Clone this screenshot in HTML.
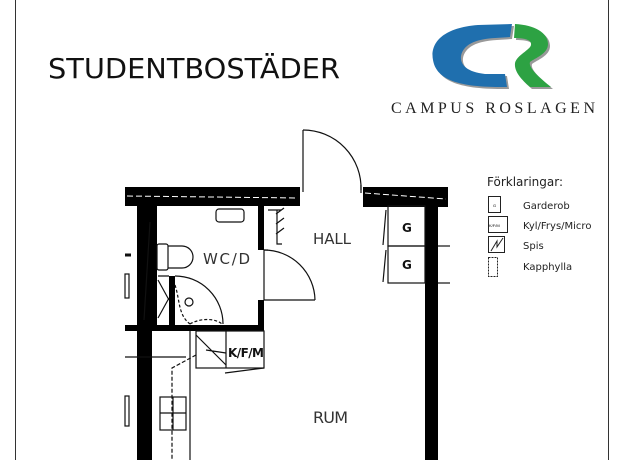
<!DOCTYPE html>
<html><head><meta charset="utf-8"><style>
html,body{margin:0;padding:0;background:#fff;}
svg{display:block}
</style></head><body>
<svg width="625" height="460" viewBox="0 0 625 460" xmlns="http://www.w3.org/2000/svg">
<rect width="625" height="460" fill="#fff"/>
<line x1="15.5" y1="0" x2="15.5" y2="460" stroke="#333" stroke-width="1"/>
<line x1="608.5" y1="0" x2="608.5" y2="460" stroke="#333" stroke-width="1"/>
<text x="48" y="78" font-family="'DejaVu Sans','Liberation Sans',sans-serif" font-size="28" textLength="292" lengthAdjust="spacingAndGlyphs" fill="#111">STUDENTBOSTÄDER</text>
<!-- logo -->
<path d="M512,24 L478,25 C440,28 430,45 433,60 C436,78 455,87 500,87 L507,87 L505,74 L485,74 C466,72 460,64 461,56 C463,45 475,39 495,38 L510,37 Z" fill="#999" transform="translate(2,2)"/>
<path d="M512,24 L478,25 C440,28 430,45 433,60 C436,78 455,87 500,87 L507,87 L505,74 L485,74 C466,72 460,64 461,56 C463,45 475,39 495,38 L510,37 Z" fill="#1f6fae"/>
<path d="M515,24 C535,25 548,33 548,44 C548,54 535,58 530,62 C528,68 540,78 551,87 L530,87 C522,80 514,72 515,63 C517,55 530,50 531,45 C532,40 525,38 514,38 Z" fill="#999" transform="translate(2,2)"/>
<path d="M515,24 C535,25 548,33 548,44 C548,54 535,58 530,62 C528,68 540,78 551,87 L530,87 C522,80 514,72 515,63 C517,55 530,50 531,45 C532,40 525,38 514,38 Z" fill="#2da243"/>
<text x="391" y="113" font-family="'Liberation Serif',serif" font-size="16" textLength="204" lengthAdjust="spacing" fill="#222">CAMPUS ROSLAGEN</text>
<!-- legend -->
<g font-family="'DejaVu Sans','Liberation Sans',sans-serif" fill="#222">
<text x="487" y="186" font-size="12">Förklaringar:</text>
<text x="523" y="209" font-size="10">Garderob</text>
<text x="523" y="229" font-size="10">Kyl/Frys/Micro</text>
<text x="523" y="249" font-size="10">Spis</text>
<text x="523" y="270" font-size="10">Kapphylla</text>
</g>
<g fill="none" stroke="#222" stroke-width="1">
<rect x="488.5" y="196.5" width="12" height="16"/>
<rect x="488.5" y="216.5" width="19" height="16"/>
<rect x="488.5" y="236.5" width="16" height="16"/>
<path d="M491,251 L497,241 L497,247 L503,238"/>
<rect x="488.5" y="257.5" width="9" height="19" stroke-dasharray="2,1"/>
</g>
<text x="493" y="207" font-size="4" font-family="sans-serif">G</text>
<text x="489" y="227" font-size="4" font-family="sans-serif">K/F/M</text>
<!-- floor plan -->
<g fill="#000">
<rect x="125" y="187" width="175" height="19"/>
<rect x="363" y="187" width="85" height="20"/>
<rect x="137" y="206" width="15" height="254"/>
<rect x="152" y="206" width="5" height="119"/>
<rect x="258" y="206" width="6" height="44"/>
<rect x="258" y="300" width="6" height="25"/>
<rect x="125" y="325" width="139" height="6"/>
<rect x="425" y="206" width="13" height="254"/>
<rect x="169" y="276" width="6" height="49"/>
</g>
<g stroke="#fff" stroke-width="1" stroke-dasharray="6,3" fill="none">
<line x1="127" y1="196" x2="298" y2="198"/>
<line x1="365" y1="193" x2="446" y2="199"/>
</g>
<g fill="none" stroke="#111" stroke-width="1.2">
<line x1="303" y1="130" x2="303" y2="192"/>
<path d="M303,130 A58,58 0 0 1 361,190"/>
<line x1="361" y1="185" x2="361" y2="193"/>
<line x1="264" y1="250" x2="264" y2="300"/>
<line x1="264" y1="250" x2="268" y2="250"/>
<path d="M264,250 A51,51 0 0 1 315,300"/>
<line x1="264" y1="300" x2="315" y2="300"/>
<path d="M175,276 A48,48 0 0 1 223,324"/>
<path d="M175,285 C180,300 178,315 190,324" stroke-dasharray="3,2"/>
<path d="M190,324 C200,318 215,318 222,324" stroke-dasharray="3,2"/>
<circle cx="189" cy="302" r="4"/>
<path d="M158,276 L169,276 M158,280 L169,300 M158,318 L169,298"/>
<rect x="216" y="209" width="28" height="13" rx="3"/>
<rect x="157" y="244" width="11" height="26" rx="2"/>
<path d="M168,246 L182,246 A11,11 0 0 1 182,268 L168,268"/>
<line x1="150" y1="222" x2="144" y2="320"/>
<line x1="388" y1="206" x2="425" y2="206"/>
<rect x="388" y="206" width="37" height="40"/>
<rect x="388" y="246" width="37" height="37"/>
<line x1="386" y1="210" x2="383" y2="245"/>
<line x1="386" y1="250" x2="383" y2="282"/>
<line x1="438" y1="246" x2="450" y2="246"/>
<line x1="438" y1="283" x2="450" y2="283"/>
<path d="M268,210 L281,210 M276,214 L284,208 M276,224 L284,218 M276,234 L284,228 M277,210 L277,244 L282,244"/>
<rect x="196" y="331" width="68" height="37"/>
<line x1="226" y1="331" x2="226" y2="368"/>
<path d="M196,335 L226,365 M206,350 L226,353"/>
<path d="M225,373 L264,368"/>
<line x1="190" y1="331" x2="190" y2="460"/>
<line x1="125" y1="357" x2="186" y2="357"/>
<path d="M196,355 L172,368 L172,460" stroke-dasharray="4,2"/>
<rect x="160" y="397" width="26" height="33"/>
<line x1="173" y1="397" x2="173" y2="430"/>
<line x1="160" y1="413" x2="186" y2="413"/>
<rect x="125" y="274" width="4" height="24"/>
<rect x="125" y="396" width="4" height="30"/>
<line x1="125" y1="255" x2="131" y2="255" stroke-width="3"/>
</g>
<g font-family="'DejaVu Sans','Liberation Sans',sans-serif" fill="#333">
<text x="313" y="244" font-size="15" textLength="38">HALL</text>
<text x="203" y="264" font-size="15" textLength="47">WC/D</text>
<text x="313" y="423" font-size="16" textLength="35">RUM</text>
<text x="228" y="357" font-size="12" textLength="36" font-weight="bold" fill="#111">K/F/M</text>
<text x="402" y="232" font-size="12" font-weight="bold" fill="#111">G</text>
<text x="402" y="269" font-size="12" font-weight="bold" fill="#111">G</text>
</g>
</svg>
</body></html>
